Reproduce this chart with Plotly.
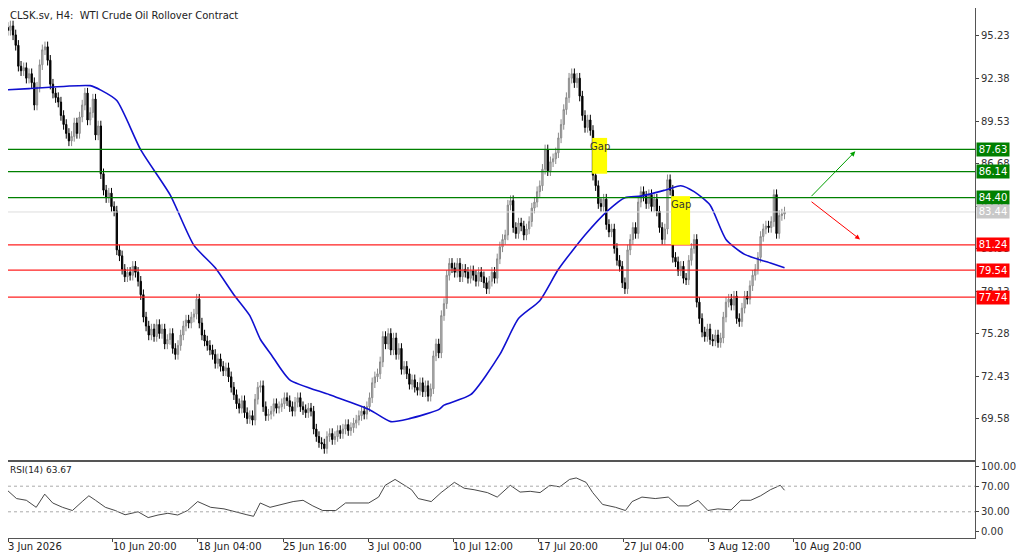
import plotly.graph_objects as go

closes = [95.8, 95.6, 95.9, 95.3, 94.6, 93.2, 92.9, 93.1, 92.4, 92.7,
92.1, 90.6, 91.8, 93.3, 94.3, 94.5, 93.6, 92.0, 91.4, 91.1,
90.8, 89.9, 89.3, 88.7, 88.2, 88.5, 89.4, 88.7, 89.8, 90.6,
91.4, 89.6, 90.1, 91.0, 88.6, 89.2, 86.0, 84.9, 84.4, 84.7,
83.8, 83.5, 80.9, 80.5, 79.6, 79.1, 79.4, 79.2, 79.8, 79.4,
78.8, 77.9, 76.4, 75.8, 75.2, 75.6, 75.1, 75.9, 75.3, 75.6,
74.6, 74.9, 75.3, 74.3, 73.9, 74.5, 75.2, 75.8, 76.2, 76.0,
76.4, 76.6, 77.6, 76.0, 75.2, 74.8, 74.5, 74.2, 73.9, 73.3,
73.6, 73.1, 72.8, 73.0, 72.4, 71.7, 71.2, 70.6, 70.3, 70.8,
70.0, 69.6, 69.8, 69.5, 70.9, 71.7, 71.8, 70.4, 69.8, 69.9,
70.1, 70.6, 70.3, 70.4, 70.6, 71.0, 70.8, 70.4, 70.1, 70.7,
71.0, 70.4, 70.2, 70.0, 70.3, 70.1, 68.9, 68.4, 68.0, 67.9,
67.6, 68.4, 68.6, 68.2, 68.4, 68.8, 68.6, 68.9, 69.2, 68.8,
69.0, 69.3, 69.5, 69.8, 70.1, 69.9, 70.4, 71.0, 72.0, 72.4,
72.6, 73.4, 75.1, 74.6, 75.3, 74.2, 75.0, 73.9, 74.3, 72.9,
73.1, 72.6, 71.9, 72.2, 71.7, 71.5, 72.0, 71.4, 71.8, 71.1,
71.6, 73.8, 74.6, 74.0, 76.5, 77.3, 79.2, 80.0, 79.7, 79.4,
80.0, 79.1, 79.6, 79.4, 79.0, 79.5, 79.2, 78.8, 79.4, 79.1,
78.7, 78.3, 78.8, 79.4, 79.0, 80.3, 81.1, 81.6, 81.9, 83.9,
84.2, 82.4, 82.0, 82.7, 82.5, 81.9, 82.3, 82.8, 83.7, 84.1,
84.8, 85.2, 86.3, 87.6, 86.2, 86.8, 87.0, 87.4, 88.4, 89.3,
90.3, 91.1, 92.4, 92.7, 92.1, 92.4, 91.2, 89.9, 89.1, 89.6,
88.9, 85.9, 85.2, 84.0, 83.8, 84.3, 82.6, 82.1, 82.3, 81.0,
80.2, 79.8, 78.7, 78.3, 80.9, 81.6, 82.4, 82.0, 84.1, 84.8,
84.5, 84.0, 84.6, 83.8, 84.3, 83.5, 82.4, 81.6, 82.3, 85.6,
84.9, 80.4, 80.1, 79.5, 79.8, 79.0, 78.9, 80.2, 81.0, 81.6,
77.4, 76.3, 75.4, 75.1, 75.6, 74.9, 74.8, 75.2, 74.7, 75.0,
76.4, 77.4, 77.6, 77.2, 77.8, 76.3, 76.1, 77.0, 77.8, 77.6,
78.5, 79.2, 79.6, 80.4, 81.8, 82.3, 82.5, 82.4, 82.8, 84.6,
82.0, 83.2, 83.3, 83.44]
first_open = 95.5

ma_idx = [-2, 9, 32, 36, 42, 51, 62, 71, 79, 86, 92, 96, 100, 107, 122, 137, 145, 152, 163, 165,
          175, 186, 193, 201, 208, 218, 227, 233, 239, 248, 254, 259, 265, 271, 278, 288, 293]
ma_val = [91.6, 91.7, 91.9, 91.6, 90.9, 87.6, 84.6, 81.2, 79.7, 77.9, 76.5, 74.9, 73.9, 72.2, 71.2, 70.2,
          69.4, 69.6, 70.2, 70.5, 71.2, 73.9, 76.3, 77.5, 79.6, 81.9, 83.6, 84.4, 84.5, 84.9, 85.2,
          84.8, 83.9, 81.6, 80.6, 80.0, 79.7]

rsi_idx = [0, 0.6, 4.3, 8, 11.7, 14.9, 17.9, 21.6, 25.3, 29, 31.5, 34, 37.7, 41.4, 45.1, 50, 53.8, 57.5,
           61.2, 64.9, 68.6, 72.4, 77.3, 82.3, 87.2, 90.9, 93.4, 95.9, 99.6, 104.5, 108.3, 112, 115.7,
           119.4, 124.3, 128, 131.8, 136.7, 140.4, 142.9, 146.6, 150.3, 152.8, 155.3, 160.2, 163.9,
           168.9, 172.6, 176.3, 181.3, 185, 189.9, 193.6, 197.4, 201.1, 204.8, 208.5, 212.2, 214.7,
           218.4, 220.9, 224.6, 229.5, 233.2, 235.7, 239.4, 244.4, 249.3, 253, 256.8, 260.5, 264.2,
           267.9, 272.9, 276.6, 280.3, 284, 287.7, 291.4, 293]
rsi_val = [66.8, 64.5, 50.7, 48, 37, 57.6, 43.8, 37, 32, 46, 55, 48, 37, 32, 25.4, 30, 21, 25,
           27.7, 25, 32, 46, 37, 34.6, 30, 25.4, 23, 43.8, 37, 41.5, 46, 48, 39.2,
           32, 32, 43.8, 43.8, 43.8, 53, 71.4, 80.6, 71.4, 64.5, 50.7, 46, 60,
           76, 66.8, 64.5, 60, 53, 71.4, 60.8, 62, 60, 71.4, 69, 80.6, 82.9,
           76, 60, 41.5, 37, 32, 46, 53, 50.7, 53, 39.2, 39.2, 48, 32,
           34.6, 33, 48, 48, 55, 64.5, 71.4, 63.67]

levels_green = [87.63, 86.14, 84.40]
levels_red = [81.24, 79.54, 77.74]
last_price = 83.44
price_ticks = [95.23, 92.38, 89.53, 86.68, 83.83, 80.98, 78.13, 75.28, 72.43, 69.58]
date_idx = [1.1, 40.5, 72.5, 104.5, 136.5, 168.5, 200.5, 232.5, 264.5, 296.5]
date_labels = ["3 Jun 2026", "10 Jun 20:00", "18 Jun 04:00", "25 Jun 16:00", "3 Jul 00:00",
               "10 Jul 12:00", "17 Jul 20:00", "27 Jul 04:00", "3 Aug 12:00", "10 Aug 20:00"]
gaps = [(220.7, 226.3, 88.4, 86.0), (250.4, 257.5, 84.5, 81.24)]

n = len(closes)
x = list(range(n))
opens = [first_open] + closes[:-1]
highs = [max(o, c) + 0.35 for o, c in zip(opens, closes)]
lows = [min(o, c) - 0.35 for o, c in zip(opens, closes)]

F = "DejaVu Sans"
fig = go.Figure()
fig.add_trace(go.Candlestick(x=x, open=opens, high=highs, low=lows, close=closes,
    increasing=dict(fillcolor="#c4c4c4", line=dict(color="#8a8a8a", width=1)),
    decreasing=dict(fillcolor="#000000", line=dict(color="#000000", width=1)),
    whiskerwidth=0, xaxis="x", yaxis="y", showlegend=False, hoverinfo="skip"))
fig.add_trace(go.Scatter(x=ma_idx, y=ma_val, mode="lines", line=dict(color="#1010d0", width=1.6, shape="spline", smoothing=0.6),
                         xaxis="x", yaxis="y", showlegend=False))
fig.add_trace(go.Scatter(x=rsi_idx, y=rsi_val, mode="lines", line=dict(color="#333333", width=0.9),
                         xaxis="x2", yaxis="y2", showlegend=False))

XR = [1.1, 364.6]
fig.update_layout(
    width=1016, height=546, margin=dict(l=0, r=49, t=0, b=16, autoexpand=False),
    paper_bgcolor="white", plot_bgcolor="white", font=dict(family=F, size=10, color="#222"),
    xaxis=dict(domain=[0, 1], range=XR, showticklabels=False, showgrid=False, zeroline=False, automargin=False,
               rangeslider=dict(visible=False), showline=True, mirror=True, linecolor="#555"),
    yaxis=dict(domain=[0.1472, 1], range=[66.83, 97.1], side="right", tickvals=price_ticks, automargin=False,
               ticktext=[f"{v:.2f}" for v in price_ticks], showgrid=False, zeroline=False,
               showline=True, mirror=True, linecolor="#555", ticks="outside", ticklen=3,
               tickfont=dict(size=10, color="#333")),
    xaxis2=dict(domain=[0, 1], range=XR, anchor="y2", showticklabels=False, showgrid=False, automargin=False,
                zeroline=False, showline=True, mirror=True, linecolor="#555",
                tickvals=date_idx, ticks="outside", ticklen=3),
    yaxis2=dict(domain=[0, 0.1434], range=[-10.9, 107.8], side="right", anchor="x2", automargin=False,
                tickvals=[100, 70, 30, 0], ticktext=["100.00", "70.00", "30.00", "0.00"],
                showgrid=False, zeroline=False, showline=True, mirror=True, linecolor="#555",
                ticks="outside", ticklen=3, tickfont=dict(size=10, color="#333")),
)

shapes = []
for lv in levels_green:
    shapes.append(dict(type="line", xref="x domain", yref="y", x0=0, x1=1, y0=lv, y1=lv,
                       line=dict(color="#008000", width=1.2)))
shapes.append(dict(type="line", xref="x domain", yref="y", x0=0, x1=1, y0=last_price, y1=last_price,
                   line=dict(color="#dddddd", width=1)))
for lv in levels_red:
    shapes.append(dict(type="line", xref="x domain", yref="y", x0=0, x1=1, y0=lv, y1=lv,
                       line=dict(color="#ff2020", width=1.2)))
for lv in [70, 30]:
    shapes.append(dict(type="line", xref="x2 domain", yref="y2", x0=0, x1=1, y0=lv, y1=lv,
                       line=dict(color="#aaaaaa", width=1, dash="dot")))
for x0, x1, y0, y1 in gaps:
    shapes.append(dict(type="rect", xref="x", yref="y", x0=x0, x1=x1, y0=y1, y1=y0,
                       fillcolor="#ffff00", line=dict(width=0), layer="above"))
fig.update_layout(shapes=shapes)

ann = []
for lv, col in [(v, "#008000") for v in levels_green] + [(last_price, "#c8c8c8")] + [(v, "#ff0000") for v in levels_red]:
    ann.append(dict(xref="paper", yref="y", x=1, y=lv, xanchor="left", yanchor="middle", xshift=1,
                    text=f"{lv:.2f}", showarrow=False, bgcolor=col, font=dict(color="white", size=10),
                    borderpad=1, width=30))
for i, t in zip(date_idx, date_labels):
    ann.append(dict(xref="x2", yref="paper", x=i, y=0, yanchor="top", xanchor="left", xshift=-2, yshift=-1,
                    text=t, showarrow=False, font=dict(size=10, color="#222")))
for x0, x1, y0, y1 in gaps:
    ann.append(dict(xref="x", yref="y", x=(x0 + x1) / 2, y=y0 - 0.55, text="Gap", showarrow=False,
                    font=dict(size=10, color="#333")))
ann.append(dict(xref="paper", yref="paper", x=0.0, y=1, xanchor="left", yanchor="top", yshift=0,
                text="CLSK.sv, H4:  WTI Crude Oil Rollover Contract", showarrow=False, font=dict(size=10, color="#222")))
ann.append(dict(xref="paper", yref="paper", x=0.0, y=0.1434, xanchor="left", yanchor="top", yshift=-1,
                text="RSI(14) 63.67", showarrow=False, font=dict(size=9, color="#222")))
ann.append(dict(xref="x", yref="y", x=319.6, y=87.5, ax=302.6, ay=84.4, axref="x", ayref="y",
                showarrow=True, arrowhead=2, arrowsize=1, arrowwidth=1, arrowcolor="#00a000", text=""))
ann.append(dict(xref="x", yref="y", x=321.4, y=81.6, ax=302.6, ay=84.2, axref="x", ayref="y",
                showarrow=True, arrowhead=2, arrowsize=1, arrowwidth=1, arrowcolor="#ff0000", text=""))
fig.update_layout(annotations=ann)

fig.write_html("out.html")
